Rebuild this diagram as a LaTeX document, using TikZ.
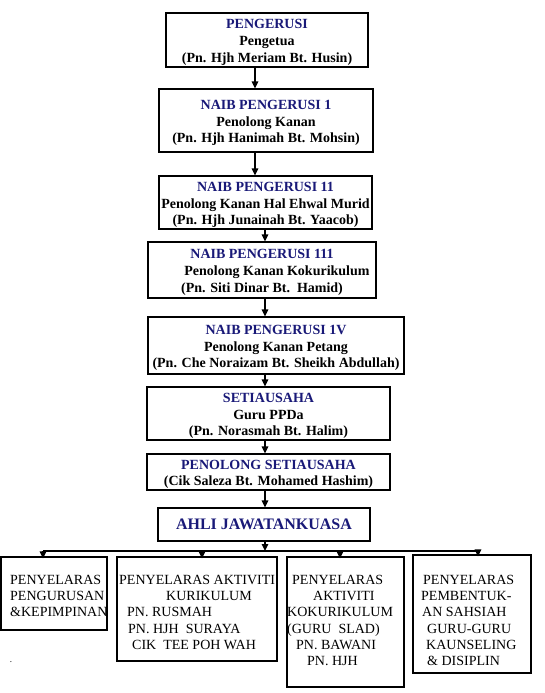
\documentclass[tikz,border=0pt]{standalone}
\usepackage{fontspec}
\setmainfont{Liberation Serif}
\usetikzlibrary{arrows.meta}
\definecolor{navy}{RGB}{25,25,120}
\newcommand{\tl}{\rule{0pt}{14pt}}
\begin{document}
\begin{tikzpicture}[x=1pt,y=-1pt,
  topbox/.style={draw, line width=1.2pt, inner sep=0pt, align=center,
    font=\fontsize{14}{16.8}\selectfont\bfseries},
  botbox/.style={draw, line width=1.2pt, inner sep=0pt},
  bottext/.style={anchor=north west, inner sep=0pt, align=left,
    font=\fontsize{14}{16.3}\selectfont},
  arr/.style={line width=1.5pt, -{Triangle[length=7pt,width=6.5pt]}},
  busline/.style={line width=1.3pt}]
\useasboundingbox (0,0) rectangle (545,693);
\fill[white] (0,0) rectangle (545,693);

% top chain
\node[topbox, minimum width=202pt, minimum height=54pt] (b1) at (267,40)
  {\tl\textcolor{navy}{PENGERUSI}\\Pengetua\\(Pn. Hjh Meriam Bt. Husin)};
\node[topbox, minimum width=214pt, minimum height=63pt] (b2) at (266,120.5)
  {\tl\textcolor{navy}{NAIB PENGERUSI 1}\\Penolong Kanan\\(Pn. Hjh Hanimah Bt. Mohsin)};
\node[topbox, minimum width=213pt, minimum height=53pt] (b3) at (265.5,202.5)
  {\tl\textcolor{navy}{NAIB PENGERUSI 11}\\Penolong Kanan Hal Ehwal Murid\\(Pn. Hjh Junainah Bt. Yaacob)};
\node[topbox, minimum width=228pt, minimum height=56pt] (b4) at (262,270)
  {\tl\textcolor{navy}{NAIB PENGERUSI 111}\\\hspace*{30pt}Penolong Kanan Kokurikulum\\(Pn. Siti Dinar Bt.\ \ Hamid)};
\node[topbox, minimum width=256pt, minimum height=57pt] (b5) at (276,345.5)
  {\tl\textcolor{navy}{NAIB PENGERUSI 1V}\\Penolong Kanan Petang\\(Pn. Che Noraizam Bt. Sheikh Abdullah)};
\node[topbox, minimum width=243pt, minimum height=53pt] (b6) at (268.5,413.5)
  {\tl\textcolor{navy}{SETIAUSAHA}\\Guru PPDa\\(Pn. Norasmah Bt. Halim)};
\node[topbox, minimum width=243pt, minimum height=36pt] (b7) at (268.5,472)
  {\tl\textcolor{navy}{PENOLONG SETIAUSAHA}\\(Cik Saleza Bt. Mohamed Hashim)};
\node[topbox, minimum width=212pt, minimum height=33pt,
  font=\fontsize{16}{18}\selectfont\bfseries] (b8) at (264,524.5)
  {\textcolor{navy}{AHLI JAWATANKUASA}};

\coordinate (ca) at (255,0);
\coordinate (cb) at (265,0);
\draw[arr] (b1.south -| ca) -- (b2.north -| ca);
\draw[arr] (b2.south -| ca) -- (b3.north -| ca);
\draw[arr] (b3.south -| cb) -- (b4.north -| cb);
\draw[arr] (b4.south -| cb) -- (b5.north -| cb);
\draw[arr] (b5.south -| cb) -- (b6.north -| cb);
\draw[arr] (b6.south -| cb) -- (b7.north -| cb);
\draw[arr] (b7.south -| cb) -- (b8.north -| cb);

% bottom boxes
\node[botbox, minimum width=106pt, minimum height=73pt] (p1) at (54,593.5) {};
\node[botbox, minimum width=160pt, minimum height=104pt] (p2) at (197,609) {};
\node[botbox, minimum width=117pt, minimum height=130pt] (p3) at (345.5,622) {};
\node[botbox, minimum width=118pt, minimum height=118pt] (p4) at (472,614) {};

\coordinate (x1) at (43,551);
\coordinate (x2) at (202,551);
\coordinate (x3) at (340,551);
\coordinate (x4) at (478,551);
\draw[busline] (x1) -- (x4);
\draw[arr] (b8.south -| cb) -- (cb |- x1);
\draw[arr] (x1) -- ([yshift=-2pt]x1 |- p1.north);
\draw[arr] (x2) -- ([yshift=-2pt]x2 |- p2.north);
\draw[arr] (x3) -- ([yshift=-2pt]x3 |- p3.north);
\draw[arr] (x4) -- ([yshift=-2pt]x4 |- p4.north);

\node[bottext] (t1) at (10,572.6)
  {\strut PENYELARAS\\PENGURUSAN\\\&KEPIMPINAN};
\node[bottext] (t2) at (119,572.6)
  {\strut PENYELARAS AKTIVITI\\\hspace*{47pt}KURIKULUM\\\hspace*{8pt}PN. RUSMAH\\\hspace*{9pt}PN. HJH\ \ SURAYA\\\hspace*{13pt}CIK\ \ TEE POH WAH};
\node[bottext] (t3) at (287,572.6)
  {\strut\hspace*{5pt}PENYELARAS\\\hspace*{26pt}AKTIVITI\\KOKURIKULUM\\(GURU\ \ SLAD)\\\hspace*{9pt}PN. BAWANI\\\hspace*{20pt}PN. HJH};
\node[bottext] (t4) at (421,572.6)
  {\strut\hspace*{2pt}PENYELARAS\\PEMBENTUK-\\\hspace*{1pt}AN SAHSIAH\\\hspace*{6pt}GURU-GURU\\\hspace*{5pt}KAUNSELING\\\hspace*{6pt}\& DISIPLIN};

\node[inner sep=0pt, font=\fontsize{9}{9}\selectfont] (dot) at (11,662) {.};
\end{tikzpicture}
\end{document}
